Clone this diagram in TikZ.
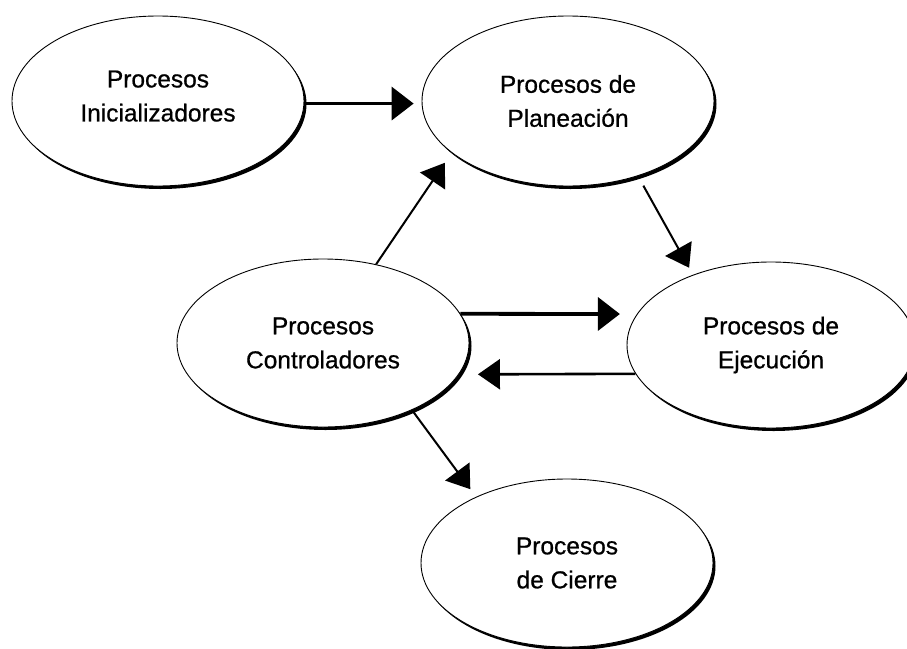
\documentclass[tikz,border=0pt]{standalone}
\usepackage{fontspec}
\setmainfont{Liberation Sans}
\newfontfamily\procfont{Liberation Sans}[FakeBold=0.7]
\usetikzlibrary{arrows.meta,shapes.geometric,shadows}
\begin{document}
\begin{tikzpicture}[x=1pt,y=-1pt,
  proc/.style={ellipse, draw=black, line width=0.9pt, fill=white,
    minimum width=292pt, minimum height=170pt, inner sep=0pt,
    align=center, font=\procfont\fontsize{24.5}{34}\selectfont, text=black,
    drop shadow={shadow xshift=2.5pt, shadow yshift=-3pt, fill=black, opacity=1}},
  link/.style={draw=black, line width=2pt, -{Triangle[length=22pt,width=30pt]}},
  boldlink/.style={draw=black, line width=3.8pt, -{Triangle[length=22pt,width=33pt]}}
]
\useasboundingbox (0,0) rectangle (907,648);

% process groups
\node[proc, text depth=10pt] (ini) at (158,101) {Procesos\\Inicializadores};
\node[proc] (plan)   at (568,101) {Procesos de\\Planeación};
\node[proc, minimum height=168pt] (ctrl)   at (323,343) {Procesos\\Controladores};
\node[proc, minimum height=166pt, minimum width=288pt] (ejec) at (771,345) {Procesos de\\Ejecución};
\node[proc, minimum height=168pt] (cierre) at (567,563) {Procesos\\de Cierre};

% flows between the groups
\draw[boldlink, line width=3.5pt, shorten >=8pt] (ini.-1) -- (plan.181);
\draw[link, shorten >=12pt] (ctrl.56) -- (plan.204);
\draw[link, shorten <=11pt, shorten >=8pt] (plan.313) -- (ejec.138);
\draw[boldlink, shorten >=17pt] (ctrl.12) -- (ejec.167);
\draw[link, line width=2.6pt, shorten >=19pt] (ejec.192) -- (ctrl.347);
\draw[link, shorten >=9.5pt] (ctrl.323) -- (cierre.144);
\end{tikzpicture}
\end{document}
